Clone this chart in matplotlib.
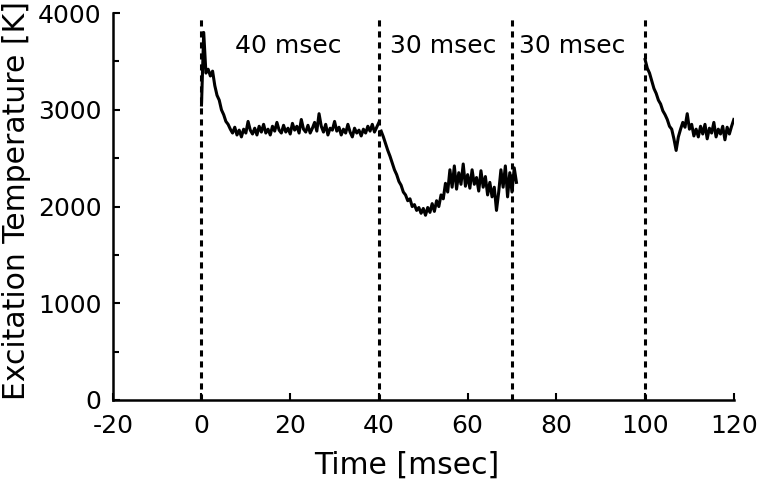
import numpy as np
import matplotlib
matplotlib.use("Agg")
import matplotlib.pyplot as plt
from matplotlib.ticker import MultipleLocator

plt.rcParams["font.family"] = ["DejaVu Sans"]
plt.rcParams["axes.unicode_minus"] = False

seg1_start, seg1_step = 0.0, 0.5
seg1_temp = [
    3050, 3800, 3380, 3420, 3350, 3400, 3250, 3150, 3100, 3000,
    2950, 2880, 2850, 2800, 2760, 2820, 2740, 2790, 2720, 2800,
    2760, 2880, 2790, 2750, 2810, 2740, 2830, 2770, 2850, 2760,
    2800, 2740, 2830, 2780, 2870, 2790, 2760, 2840, 2770, 2810,
    2750, 2860, 2790, 2830, 2760, 2900, 2800, 2770, 2840, 2760,
    2810, 2870, 2780, 2960, 2830, 2770, 2850, 2740, 2810, 2790,
    2880, 2780, 2820, 2740, 2800, 2760, 2850, 2770, 2720, 2810,
    2760, 2790, 2730, 2800, 2760, 2830, 2780, 2850, 2770, 2820,
    2870,
]

seg2_start, seg2_step = 40.5, 0.5
seg2_temp = [
    2780, 2720, 2650, 2580, 2520, 2450, 2380, 2330, 2260, 2220,
    2150, 2120, 2060, 2080, 2000, 2020, 1960, 1990, 1930, 1980,
    1910, 1990, 1940, 2030, 1950, 2060, 2000, 2120, 2080, 2240,
    2150, 2380, 2200, 2420, 2180, 2350, 2230, 2440, 2210, 2330,
    2190, 2380, 2230, 2300, 2160, 2370, 2200, 2310, 2120, 2250,
    2100, 2200, 1960, 2150, 2380, 2200, 2420, 2100, 2350, 2150,
    2400, 2250,
]

seg3_start, seg3_step = 100.0, 0.5
seg3_temp = [
    3520, 3430, 3380, 3300, 3220, 3170, 3100, 3060, 2990, 2950,
    2900, 2830, 2800, 2700, 2580, 2720, 2800, 2870, 2820, 2960,
    2800, 2850, 2730, 2800, 2720, 2830, 2750, 2850, 2700, 2810,
    2760, 2870, 2720, 2800, 2750, 2830, 2690, 2820, 2750, 2830,
    2900,
]

pulse_times = [0, 40, 70, 100]
interval_labels = ["40 msec", "30 msec", "30 msec"]
label_x = [19.6, 54.5, 83.6]
label_y = 3660


def seg_time(start, step, values):
    return start + step * np.arange(len(values))


fig = plt.figure(figsize=(7.62, 4.8), dpi=100)
ax = fig.add_axes([0.148, 0.1667, 0.815, 0.806])

for start, step, vals in [(seg1_start, seg1_step, seg1_temp),
                          (seg2_start, seg2_step, seg2_temp),
                          (seg3_start, seg3_step, seg3_temp)]:
    ax.plot(seg_time(start, step, vals), vals, color="black", lw=2.2)

for t in pulse_times:
    ax.axvline(t, ymin=0, ymax=0.99, color="black", lw=2.2,
               linestyle=(0, (2, 1.6)))

for x, txt in zip(label_x, interval_labels):
    ax.text(x, label_y, txt, ha="center", va="center", fontsize=18)

ax.set_xlim(-20, 120)
ax.set_ylim(0, 4000)
ax.xaxis.set_major_locator(MultipleLocator(20))
ax.yaxis.set_major_locator(MultipleLocator(1000))
ax.yaxis.set_minor_locator(MultipleLocator(500))

for side in ["top", "right"]:
    ax.spines[side].set_visible(False)
for side in ["left", "bottom"]:
    ax.spines[side].set_linewidth(1.8)

ax.tick_params(axis="both", which="major", direction="in", length=5,
               width=1.5, labelsize=18)
ax.tick_params(axis="x", which="major", pad=10)
ax.tick_params(axis="y", which="major", pad=8)
ax.tick_params(axis="y", which="minor", direction="in", length=4, width=1.5)

ax.set_xlabel("Time [msec]", fontsize=21.5)
ax.xaxis.set_label_coords(0.473, -0.13)
ax.set_ylabel("Excitation Temperature [K]", fontsize=21.5)
ax.yaxis.set_label_coords(-0.131, 0.515)

fig.savefig("out.png", dpi=100)
